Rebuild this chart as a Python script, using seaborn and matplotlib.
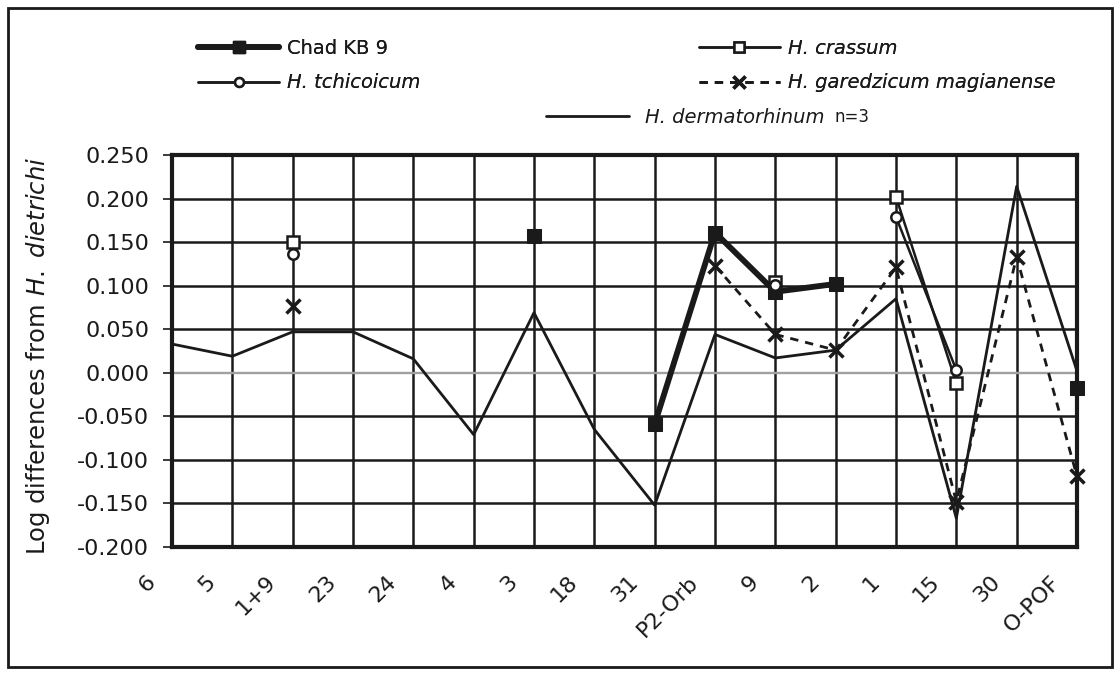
import numpy as np
import pandas as pd
import matplotlib
matplotlib.use("Agg")
import matplotlib.pyplot as plt
import matplotlib.transforms as mtransforms
from matplotlib.lines import Line2D
from matplotlib.patches import Rectangle
from matplotlib.ticker import FormatStrFormatter
import seaborn as sns

nan = np.nan
categories = ["6", "5", "1+9", "23", "24", "4", "3", "18", "31", "P2-Orb",
              "9", "2", "1", "15", "30", "O-POF"]
chad_kb9 = [nan, nan, nan, nan, nan, nan, 0.157, nan, -0.059, 0.161,
            0.093, 0.102, nan, nan, nan, -0.017]
h_crassum = [nan, nan, 0.150, nan, nan, nan, nan, nan, nan, nan,
             0.104, nan, 0.202, -0.012, nan, nan]
h_tchicoicum = [nan, nan, 0.136, nan, nan, nan, nan, nan, nan, nan,
                0.101, nan, 0.179, 0.003, nan, nan]
h_garedzicum = [nan, nan, 0.077, nan, nan, nan, nan, nan, nan, 0.123,
                0.044, 0.026, 0.121, -0.148, 0.133, -0.119]
h_dermatorhinum = [0.033, 0.019, 0.047, 0.047, 0.016, -0.071, 0.069, -0.065,
                   -0.152, 0.044, 0.017, 0.026, 0.085, -0.167, 0.214, 0.002]
y_ticks = [-0.200, -0.150, -0.100, -0.050, 0.000, 0.050, 0.100, 0.150, 0.200, 0.250]

sns.set_theme(style="white")
plt.rcParams['font.family'] = ['DejaVu Sans']
plt.rcParams['mathtext.fontset'] = 'dejavusans'

INK = "#1a1a1a"
fig = plt.figure(figsize=(11.2, 6.75), dpi=100)
ax = fig.add_axes([172 / 1120, 1 - 547 / 675, (1077 - 172) / 1120, (547 - 155) / 675])

x_pos = np.arange(len(categories))


def segments(vals):
    segs, cur = [], []
    for i, v in enumerate(vals):
        if np.isnan(v):
            if cur:
                segs.append(cur)
            cur = []
        else:
            cur.append(i)
    if cur:
        segs.append(cur)
    return segs


def draw(vals, **kw):
    vals = np.asarray(vals, dtype=float)
    for seg in segments(vals):
        df = pd.DataFrame({"x": x_pos[seg], "y": vals[seg]})
        sns.lineplot(data=df, x="x", y="y", ax=ax, estimator=None, sort=False,
                     clip_on=False, **kw)


derm_style = dict(color=INK, lw=2.0, zorder=3)
gared_style = dict(color=INK, lw=2.0, ls=(0, (3, 2.5)), marker="x", ms=10, mew=2.5,
                   mec=INK, zorder=4)
chad_style = dict(color=INK, lw=4.2, marker="s", ms=10, mfc=INK, mec=INK, zorder=5)
crassum_style = dict(color=INK, lw=1.8, marker="s", ms=9, mfc="white", mec=INK,
                     mew=1.8, zorder=6)
tchic_style = dict(color=INK, lw=1.8, marker="o", ms=7.5, mfc="white", mec=INK,
                   mew=1.8, zorder=7)

draw(h_dermatorhinum, **derm_style)
draw(h_garedzicum, **gared_style)
draw(chad_kb9, **chad_style)
draw(h_crassum, **crassum_style)
draw(h_tchicoicum, **tchic_style)

ax.set_xlim(0, len(categories) - 1)
ax.set_ylim(-0.200, 0.250)
ax.set_yticks(y_ticks)
ax.yaxis.set_major_formatter(FormatStrFormatter('%.3f'))
ax.set_xticks(x_pos)

ax.tick_params(axis="y", labelsize=16, colors=INK, length=6.5, width=1.2, direction="out",
               left=True, pad=10)
ax.tick_params(axis="x", length=0, bottom=True, pad=18, labelsize=16, colors=INK)
ax.set_xticklabels(categories, rotation=45, ha="right", va="top", rotation_mode="anchor")
offset = mtransforms.ScaledTranslation(-27 / 100, 0, fig.dpi_scale_trans)
for lbl in ax.get_xticklabels():
    lbl.set_transform(lbl.get_transform() + offset)

ax.set_xlabel("")
ax.set_ylabel(r"Log differences from $\it{H.\ dietrichi}$", fontsize=17.5, color=INK)
ax.yaxis.set_label_coords(-0.133, 0.487)

ax.grid(True, color=INK, lw=1.8)
for gl in ax.get_ygridlines():
    if abs(gl.get_ydata()[0]) < 1e-9:
        gl.set_color("#a0a0a0")
        gl.set_linewidth(1.7)
ax.set_axisbelow(True)
for s in ax.spines.values():
    s.set_visible(True)
    s.set_color(INK)
    s.set_linewidth(3)


# Legend
def handle(st, scale=0.85):
    d = dict(st)
    d.pop("zorder", None)
    if "ms" in d:
        d["ms"] = d["ms"] * scale
    return Line2D([], [], **d)


h_chad = handle(chad_style)
h_cr = handle(crassum_style)
h_tc = handle(tchic_style)
h_ga = handle(gared_style)
h_de = handle(derm_style)

leg1 = fig.legend([h_chad, h_tc, h_cr, h_ga],
                  ["Chad KB 9", "H. tchicoicum", "H. crassum", "H. garedzicum magianense"],
                  ncol=2, loc="upper left", bbox_to_anchor=(190 / 1120, 1 - 31 / 675),
                  frameon=False, fontsize=14, handlelength=4.2, handletextpad=0.4,
                  columnspacing=14.3, labelspacing=0.8, borderaxespad=0)
for t in leg1.get_texts():
    t.set_color(INK)
for t in leg1.get_texts()[1:]:
    t.set_fontstyle("italic")
leg2 = fig.legend([h_de], ["H. dermatorhinum"], loc="upper left",
                  bbox_to_anchor=(538 / 1120, 1 - 100 / 675), frameon=False, fontsize=14,
                  handlelength=4.3, handletextpad=0.8, borderaxespad=0)
leg2.get_texts()[0].set_fontstyle("italic")
leg2.get_texts()[0].set_color(INK)
fig.add_artist(leg1)

fig.canvas.draw()
renderer = fig.canvas.get_renderer()
bb = leg2.get_texts()[0].get_window_extent(renderer)
inv = fig.transFigure.inverted()
x1, y0 = inv.transform((bb.x1 + 10, bb.y0 + 1))
fig.text(x1, y0, "n=3", fontsize=12, color=INK, ha="left", va="bottom")

fig.add_artist(Rectangle((8 / 1120, 8 / 675), 1 - 16 / 1120, 1 - 16 / 675,
                         transform=fig.transFigure, fill=False, ec=INK, lw=2))

fig.savefig("out.png", dpi=100, facecolor="white")
